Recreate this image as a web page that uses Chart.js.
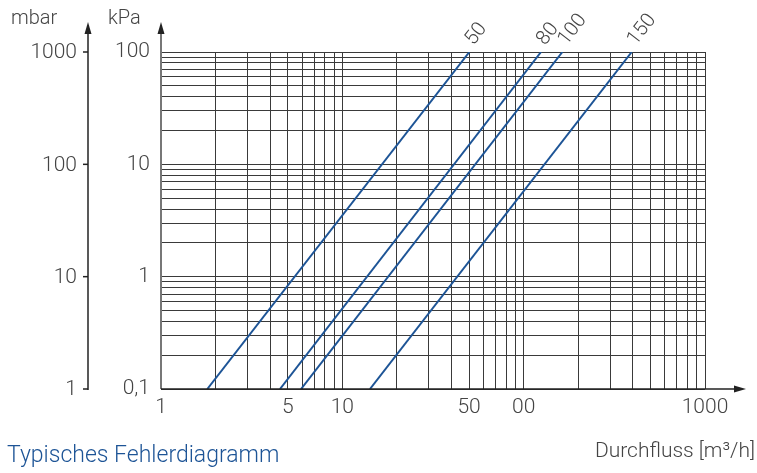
<!DOCTYPE html>
<html lang="de">
<head>
  <meta charset="UTF-8">
  <title>Typisches Fehlerdiagramm</title>
  <script src="https://cdn.jsdelivr.net/npm/chart.js@4.4.0/dist/chart.umd.min.js"></script>
  <style>
    body { margin: 0; background: #fff; }
    #wrap { width: 757px; height: 473px; }
  </style>
</head>
<body>
  <div id="wrap">
    <canvas id="chart" width="757" height="473"></canvas>
  </div>
  <script>
    // Nennweiten (DN) der Kennlinien
    const sizes = ["50", "80", "100", "150"];
    // Durchfluss [m3/h] bei 0,1 kPa und bei 100 kPa
    const flowLow = [1.80, 4.53, 5.92, 14.2];
    const flowHigh = [50.2, 124.7, 163.5, 394.5];
    const pressLow = 0.1;
    const pressHigh = 100;

    // Gitter
    const flowGrid = [1, 2, 3, 4, 5, 6, 7, 8, 9, 10, 20, 30, 40, 50, 60, 70, 80, 90,
      100, 200, 300, 400, 500, 600, 700, 800, 900, 1000];
    const pressGrid = [0.1, 0.2, 0.3, 0.4, 0.5, 0.6, 0.7, 0.8, 0.9, 1, 2, 3, 4, 5, 6, 7, 8, 9,
      10, 20, 30, 40, 50, 60, 70, 80, 90, 100];

    // Achsenbeschriftungen
    const flowLabelValues = [1, 5, 10, 50, 100, 1000];
    const flowLabelTexts = ["1", "5", "10", "50", "00", "1000"];
    const kpaLabelValues = [0.1, 1, 10, 100];
    const kpaLabelTexts = ["0,1", "1", "10", "100"];
    const mbarLabelValues = [1, 10, 100, 1000];
    const mbarLabelTexts = ["1", "10", "100", "1000"];

    const blue = "#1d5496";
    const textGray = "#444";
    const fontFam = "Roboto, 'Open Sans', sans-serif";

    const datasets = sizes.map((s, i) => ({
      label: "DN " + s,
      data: [{ x: flowLow[i], y: pressLow }, { x: flowHigh[i], y: pressHigh }],
      borderColor: blue,
      borderWidth: 2,
      pointRadius: 0,
      showLine: true,
      fill: false
    }));

    function arrowUp(ctx, x, yTip) {
      ctx.beginPath();
      ctx.moveTo(x, yTip);
      ctx.lineTo(x - 3.5, yTip + 12);
      ctx.lineTo(x + 3.5, yTip + 12);
      ctx.closePath();
      ctx.fill();
    }

    const extras = {
      id: "extras",
      afterDraw(chart) {
        const ctx = chart.ctx;
        const xs = chart.scales.x;
        const ys = chart.scales.y;
        const area = chart.chartArea;
        ctx.save();

        // kPa-Achse
        ctx.strokeStyle = "#777";
        ctx.lineWidth = 2;
        ctx.beginPath();
        ctx.moveTo(area.left, area.bottom);
        ctx.lineTo(area.left, 28);
        ctx.stroke();
        ctx.fillStyle = "#222";
        arrowUp(ctx, area.left, 22);

        // Durchfluss-Achse
        ctx.strokeStyle = "#222";
        ctx.lineWidth = 1.5;
        ctx.beginPath();
        ctx.moveTo(area.left, area.bottom);
        ctx.lineTo(738, area.bottom);
        ctx.stroke();
        ctx.beginPath();
        ctx.moveTo(746, area.bottom);
        ctx.lineTo(734, area.bottom - 3.5);
        ctx.lineTo(734, area.bottom + 3.5);
        ctx.closePath();
        ctx.fill();

        // mbar-Achse
        const mx = 88;
        ctx.lineWidth = 1.5;
        ctx.beginPath();
        ctx.moveTo(mx, ys.getPixelForValue(0.1) + 1);
        ctx.lineTo(mx, 28);
        ctx.stroke();
        arrowUp(ctx, mx, 22);
        ctx.font = "300 21px " + fontFam;
        ctx.fillStyle = textGray;
        ctx.textAlign = "right";
        ctx.textBaseline = "middle";
        mbarLabelValues.forEach((v, i) => {
          const y = ys.getPixelForValue(v / 10);
          ctx.beginPath();
          ctx.moveTo(mx - 5, y);
          ctx.lineTo(mx, y);
          ctx.stroke();
          ctx.fillText(mbarLabelTexts[i], mx - 11, y + 1);
        });

        // Einheiten
        ctx.textAlign = "left";
        ctx.font = "300 20px " + fontFam;
        ctx.fillText("mbar", 11, 19);
        ctx.fillText("kPa", 108, 19);

        // Nennweiten an den Kennlinien
        ctx.font = "300 20px " + fontFam;
        ctx.textBaseline = "alphabetic";
        sizes.forEach((s, i) => {
          const px = xs.getPixelForValue(flowHigh[i]);
          const py = ys.getPixelForValue(pressHigh);
          ctx.save();
          ctx.translate(px + 4, py - 6);
          ctx.rotate(-52 * Math.PI / 180);
          ctx.fillText(s, 0, 0);
          ctx.restore();
        });

        // Titel und Achsentitel
        ctx.font = "300 23px " + fontFam;
        ctx.fillStyle = blue;
        ctx.textBaseline = "middle";
        ctx.fillText("Typisches Fehlerdiagramm", 7, 456);
        ctx.font = "300 21px " + fontFam;
        ctx.fillStyle = textGray;
        ctx.textAlign = "right";
        ctx.fillText("Durchfluss [m\u00B3/h]", 755, 452);

        ctx.restore();
      }
    };

    new Chart(document.getElementById("chart").getContext("2d"), {
      type: "scatter",
      data: { datasets: datasets },
      options: {
        responsive: false,
        devicePixelRatio: 1,
        animation: false,
        layout: { padding: { left: 0, right: 52, top: 52, bottom: 0 } },
        plugins: { legend: { display: false }, tooltip: { enabled: false } },
        scales: {
          x: {
            type: "logarithmic",
            min: 1,
            max: 1000,
            afterBuildTicks: (s) => { s.ticks = flowGrid.map(v => ({ value: v })); },
            afterFit: (s) => { s.height = 84; },
            border: { display: false },
            grid: { color: "#3a3a3a", lineWidth: 1, drawTicks: false },
            ticks: {
              autoSkip: false,
              maxRotation: 0,
              padding: 6,
              color: textGray,
              font: { family: fontFam, size: 21, weight: 300 },
              callback: (v) => {
                const k = flowLabelValues.indexOf(v);
                return k >= 0 ? flowLabelTexts[k] : "";
              }
            }
          },
          y: {
            type: "logarithmic",
            min: 0.1,
            max: 100,
            afterBuildTicks: (s) => { s.ticks = pressGrid.map(v => ({ value: v })); },
            afterFit: (s) => { s.width = 161; },
            border: { display: false },
            grid: { color: "#3a3a3a", lineWidth: 1, drawTicks: false },
            ticks: {
              autoSkip: false,
              padding: 11,
              color: textGray,
              font: { family: fontFam, size: 21, weight: 300 },
              callback: (v) => {
                const k = kpaLabelValues.findIndex(t => Math.abs(t - v) < 1e-9);
                return k >= 0 ? kpaLabelTexts[k] : "";
              }
            }
          }
        }
      },
      plugins: [extras]
    });
  </script>
</body>
</html>
